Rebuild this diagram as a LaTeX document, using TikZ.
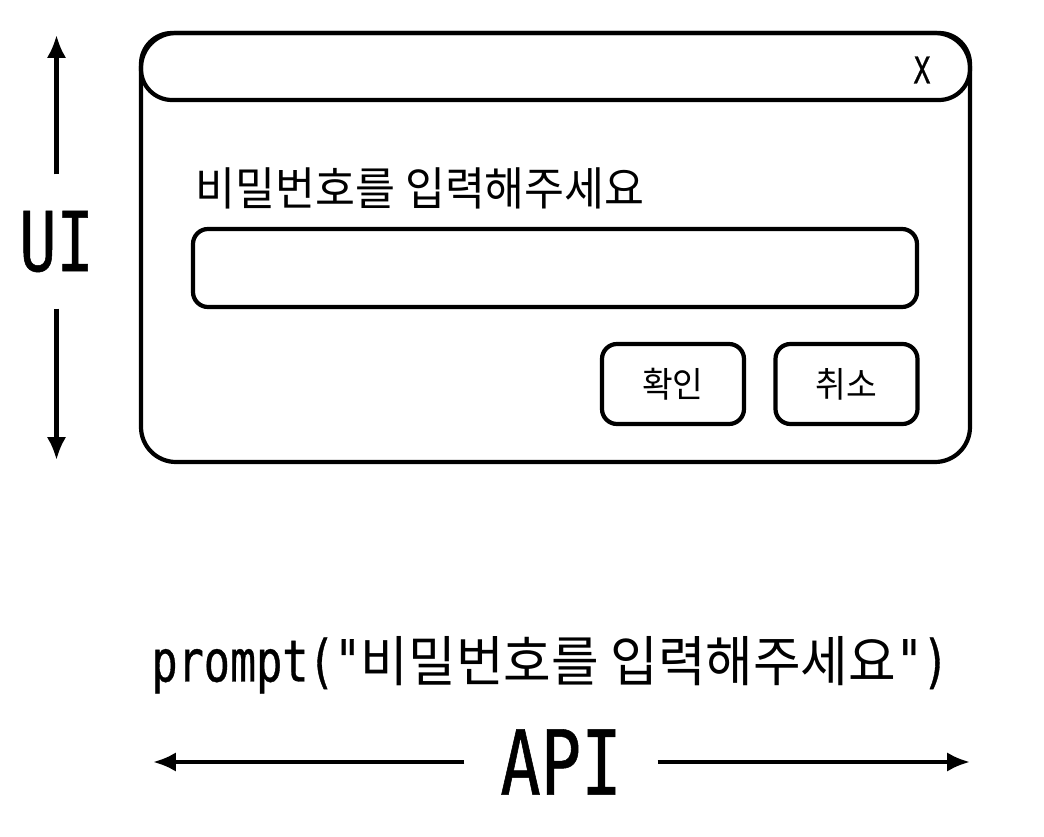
\documentclass[tikz,border=0pt]{standalone}
\usepackage{fontspec}
\newfontfamily\kr[FakeStretch=0.95]{Noto Sans CJK KR}
\newfontfamily\mono[FakeStretch=0.75,FakeBold=0.6]{DejaVu Sans Mono}
\usetikzlibrary{arrows.meta,calc}
\tikzset{>={Latex[length=6.5pt,width=5.5pt]}}
\tikzset{
    frame/.style={draw, line width=1.2pt, inner sep=0pt},
    btn/.style={frame, rounded corners=0.15cm, minimum width=1.42cm, minimum height=0.8cm, font=\kr\fontsize{10}{12}\selectfont},
    axis/.style={line width=1.2pt}
}

\begin{document}
\begin{tikzpicture}
    \useasboundingbox (0,0) rectangle (10.44,-8.37);

    % window
    \node[frame, rounded corners=0.35cm, minimum width=8.29cm, minimum height=4.29cm] (win) at (5.555,-2.475) {};
    \node[frame, rounded corners=0.31cm, minimum width=8.29cm, minimum height=0.67cm] (bar) at (5.555,-0.665) {};
    \node[font=\mono\fontsize{10.5}{12}\selectfont] (close) at (9.22,-0.70) {X};

    \node[anchor=west, inner sep=0pt, font=\kr\fontsize{13}{15}\selectfont] (msg) at (1.95,-1.88) {비밀번호를 입력해주세요};
    \node[frame, rounded corners=0.15cm, minimum width=7.24cm, minimum height=0.78cm] (field) at (5.55,-2.68) {};

    \node[btn] (ok) at (6.73,-3.84) {확인};
    \node[btn] (cancel) at (8.465,-3.84) {취소};

    % UI axis
    \coordinate (uitop) at (0.565,-0.35);
    \coordinate (uibot) at (0.565,-4.60);
    \node[inner sep=0pt, minimum height=1.33cm, font=\mono\fontsize{23.5}{26}\selectfont] (ui) at (0.565,-2.415) {UI};
    \draw[axis,->] (ui.north) -- (uitop);
    \draw[axis,->] (ui.south) -- (uibot);

    % call
    \node[inner sep=0pt] (call) at (5.50,-6.65) {\mono\fontsize{16.5}{18}\selectfont prompt("\kr\fontsize{15.5}{18}\selectfont 비밀번호를 입력해주세요\mono\fontsize{16.5}{18}\selectfont ")};

    % API axis
    \coordinate (apileft) at (1.53,-7.62);
    \coordinate (apiright) at (9.70,-7.62);
    \node[inner sep=0pt, minimum width=1.92cm, font=\mono\fontsize{25.5}{28}\selectfont] (api) at (5.61,-7.62) {API};
    \draw[axis,->] (api.west) -- (apileft);
    \draw[axis,->] (api.east) -- (apiright);
\end{tikzpicture}
\end{document}
